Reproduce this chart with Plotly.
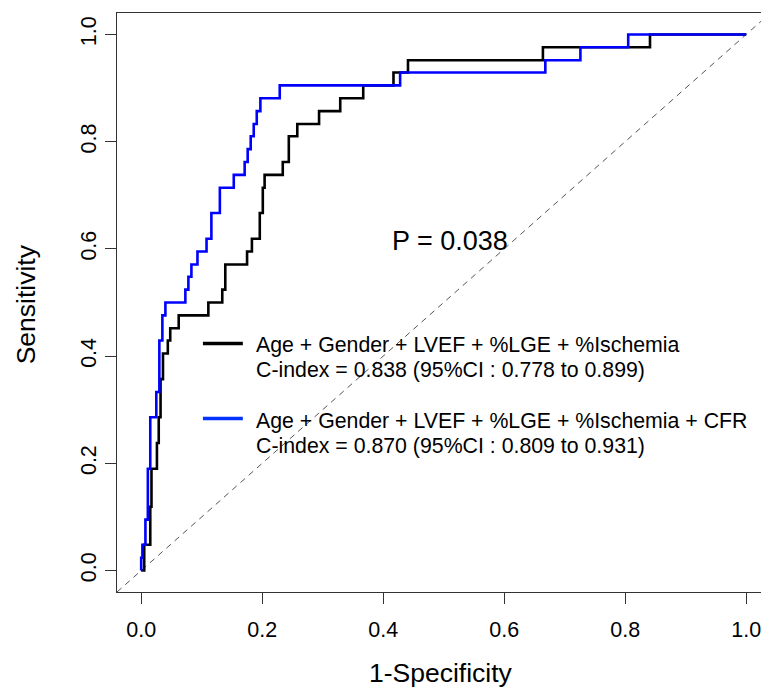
import plotly.graph_objects as go

# ---- data ----
black_fpr = [0.0, 0.005, 0.015, 0.017, 0.026, 0.029, 0.032, 0.036, 0.044, 0.048, 0.062,
             0.111, 0.134, 0.139, 0.175, 0.183, 0.196, 0.201, 0.204, 0.234, 0.244,
             0.258, 0.294, 0.329, 0.367, 0.417, 0.441, 0.664, 0.841, 1.0]
black_tpr = [0.0, 0.048, 0.119, 0.190, 0.238, 0.286, 0.357, 0.405, 0.429, 0.452, 0.476,
             0.500, 0.524, 0.571, 0.595, 0.619, 0.667, 0.714, 0.738, 0.762, 0.810,
             0.833, 0.857, 0.881, 0.905, 0.929, 0.952, 0.976, 1.0, 1.0]

blue_fpr = [0.0, 0.0, 0.002, 0.007, 0.011, 0.015, 0.025, 0.030, 0.035, 0.040, 0.073,
            0.078, 0.083, 0.093, 0.108, 0.116, 0.130, 0.153, 0.171, 0.176, 0.181,
            0.186, 0.191, 0.197, 0.229, 0.428, 0.668, 0.726, 0.805, 1.0]
blue_tpr = [0.0, 0.024, 0.048, 0.095, 0.190, 0.286, 0.333, 0.429, 0.476, 0.500, 0.524,
            0.548, 0.571, 0.595, 0.619, 0.667, 0.714, 0.738, 0.762, 0.786, 0.810,
            0.833, 0.857, 0.881, 0.905, 0.929, 0.952, 0.976, 1.0, 1.0]

diag = [-0.04, 1.04]

tick_vals = [0.0, 0.2, 0.4, 0.6, 0.8, 1.0]
tick_text = ["0.0", "0.2", "0.4", "0.6", "0.8", "1.0"]

legend_title_1 = "Age + Gender + LVEF + %LGE + %Ischemia"
legend_cindex_1 = "C-index = 0.838 (95%CI : 0.778 to 0.899)"
legend_title_2 = "Age + Gender + LVEF + %LGE + %Ischemia + CFR"
legend_cindex_2 = "C-index = 0.870 (95%CI : 0.809 to 0.931)"
p_text = "P = 0.038"

FONT = "Liberation Sans, Arial, sans-serif"

fig = go.Figure()
fig.add_trace(go.Scatter(x=diag, y=diag, mode="lines",
                         line=dict(color="#555555", width=1, dash="6px,5px"),
                         showlegend=False, hoverinfo="skip"))
fig.add_trace(go.Scatter(x=black_fpr, y=black_tpr, mode="lines",
                         line=dict(color="black", width=2.6, shape="hv"),
                         showlegend=False))
fig.add_trace(go.Scatter(x=blue_fpr, y=blue_tpr, mode="lines",
                         line=dict(color="#0000FF", width=2.6, shape="hv"),
                         showlegend=False))

# legend drawn manually
fig.add_shape(type="line", xref="x", yref="y", x0=0.102, x1=0.168, y0=0.4235, y1=0.4235,
              line=dict(color="black", width=3.5))
fig.add_shape(type="line", xref="x", yref="y", x0=0.102, x1=0.168, y0=0.2836, y1=0.2836,
              line=dict(color="#0033FF", width=3.5))
for txt, yv in [(legend_title_1, 0.4216), (legend_cindex_1, 0.375),
                (legend_title_2, 0.2785), (legend_cindex_2, 0.2319)]:
    fig.add_annotation(x=0.1863, y=yv, xref="x", yref="y", text=txt, showarrow=False,
                       xanchor="left", yanchor="middle",
                       font=dict(family=FONT, size=21.3, color="black"))

fig.add_annotation(x=0.51, y=0.615, xref="x", yref="y", text=p_text, showarrow=False,
                   xanchor="center", yanchor="middle",
                   font=dict(family=FONT, size=27, color="black"))

# axis titles
fig.add_annotation(x=0.503, y=-0.14, xref="paper", yref="paper", text="1-Specificity",
                   showarrow=False, xanchor="center", yanchor="middle",
                   font=dict(family=FONT, size=26.5, color="black"))
fig.add_annotation(x=-0.142, y=0.496, xref="paper", yref="paper", text="Sensitivity",
                   showarrow=False, xanchor="center", yanchor="middle", textangle=-90,
                   font=dict(family=FONT, size=26.5, color="black"))

fig.update_layout(
    width=761, height=687,
    margin=dict(l=117, r=0, t=13, b=95, autoexpand=False),
    paper_bgcolor="white", plot_bgcolor="white",
    font=dict(family=FONT, color="black"),
    xaxis=dict(range=[-0.04, 1.0245], tickvals=tick_vals, ticktext=tick_text,
               showgrid=False, zeroline=False, showline=True, mirror=True,
               linecolor="#333333", linewidth=1.2, automargin=False,
               ticks="outside", ticklen=11, tickwidth=1, tickcolor="#333333",
               tickfont=dict(family=FONT, size=21.5, color="black"),
               ticklabelstandoff=7, ticklabeloverflow="allow"),
    yaxis=dict(range=[-0.04, 1.04], tickvals=tick_vals, ticktext=tick_text,
               showgrid=False, zeroline=False, showline=True, mirror=False,
               linecolor="#333333", linewidth=1.2, automargin=False,
               ticks="outside", ticklen=11, tickwidth=1, tickcolor="#333333",
               tickangle=-90, ticklabeloverflow="allow",
               tickfont=dict(family=FONT, size=21.5, color="black")),
)

fig.write_html("out.html",
               config={"displayModeBar": False},
               post_script="document.body.style.margin='0';document.body.style.overflow='hidden';")
